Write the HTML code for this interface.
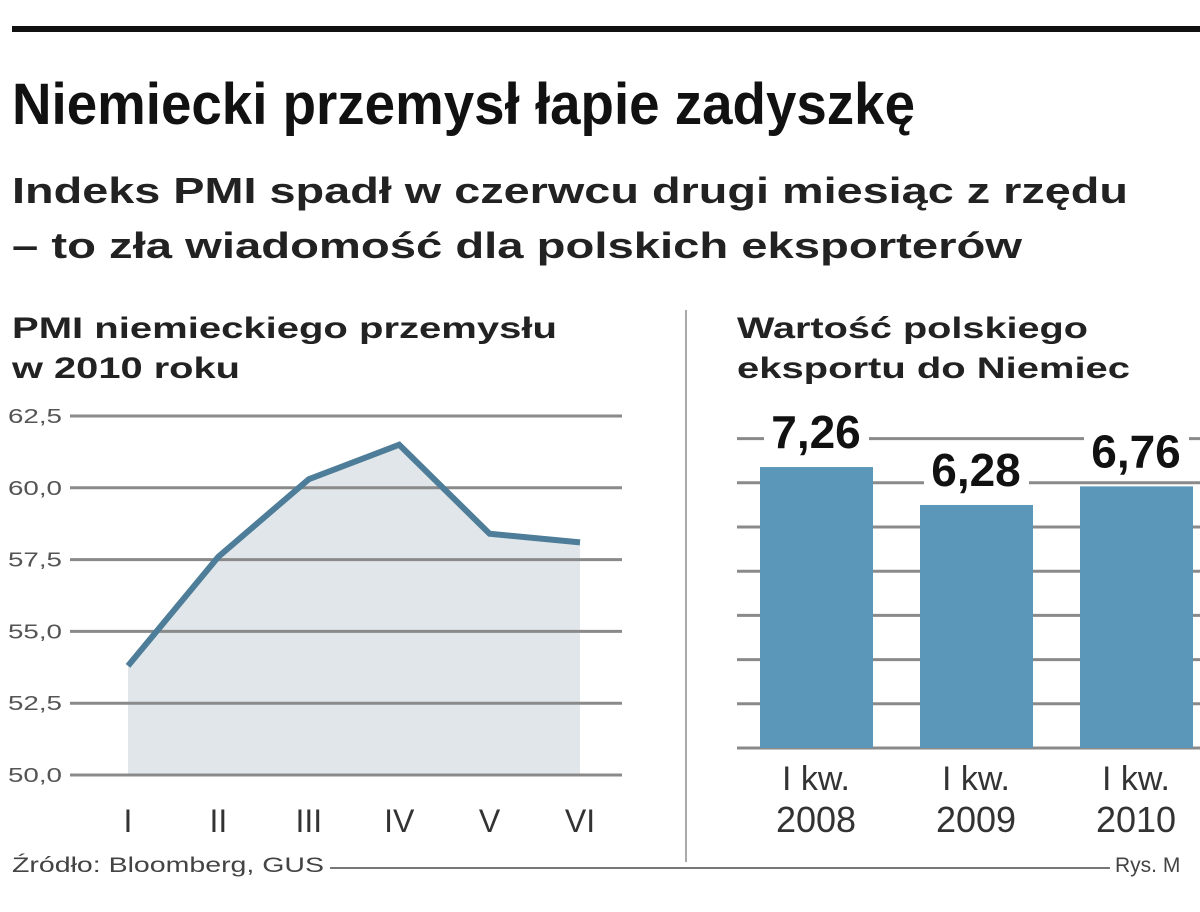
<!DOCTYPE html>
<html><head><meta charset="utf-8"><style>
html,body{margin:0;padding:0;background:#fff;}
svg{display:block;font-family:"Liberation Sans",sans-serif;}
</style></head><body>
<svg id="c" width="1200" height="912" viewBox="0 0 1200 912">
<rect x="12" y="26" width="1188" height="6" fill="#111"/>
<text x="12" y="124" font-size="58" font-weight="bold" fill="#111" textLength="903" lengthAdjust="spacingAndGlyphs">Niemiecki przemysł łapie zadyszkę</text>
<text x="12" y="203" font-size="36" font-weight="bold" fill="#222" textLength="1116" lengthAdjust="spacingAndGlyphs">Indeks PMI spadł w czerwcu drugi miesiąc z rzędu</text>
<text x="12" y="258" font-size="36" font-weight="bold" fill="#222" textLength="1010" lengthAdjust="spacingAndGlyphs">– to zła wiadomość dla polskich eksporterów</text>
<text x="12" y="338" font-size="30" font-weight="bold" fill="#222" textLength="545" lengthAdjust="spacingAndGlyphs">PMI niemieckiego przemysłu</text>
<text x="12" y="378" font-size="30" font-weight="bold" fill="#222" textLength="228" lengthAdjust="spacingAndGlyphs">w 2010 roku</text>
<text x="737" y="338" font-size="30" font-weight="bold" fill="#222" textLength="351" lengthAdjust="spacingAndGlyphs">Wartość polskiego</text>
<text x="737" y="378" font-size="30" font-weight="bold" fill="#222" textLength="393" lengthAdjust="spacingAndGlyphs">eksportu do Niemiec</text>
<line x1="686" y1="310" x2="686" y2="862" stroke="#aaa" stroke-width="2"/>
<line x1="330" y1="868" x2="1110" y2="868" stroke="#777" stroke-width="2"/>
<text x="12" y="872" font-size="21" fill="#444" textLength="312" lengthAdjust="spacingAndGlyphs">Źródło: Bloomberg, GUS</text>
<text x="1115" y="872" font-size="21" fill="#444">Rys. M</text>
<g id="lc"></g>
<g id="bc"></g>
</svg>
<script>
const months = ["I","II","III","IV","V","VI"];
const pmiValues = [53.8, 57.6, 60.3, 61.5, 58.4, 58.1];
const yTicks = [50.0, 52.5, 55.0, 57.5, 60.0, 62.5];
const yTickLabels = ["50,0","52,5","55,0","57,5","60,0","62,5"];
const barCategories = ["2008","2009","2010"];
const exportValues = [7.26, 6.28, 6.76];
const exportLabels = ["7,26","6,28","6,76"];
const barGridValues = [0,1,2,3,4,5,6,7];

const NS="http://www.w3.org/2000/svg";
function mk(tag, attrs, parent, text){const e=document.createElementNS(NS,tag);for(const k in attrs)e.setAttribute(k,attrs[k]);if(text!==undefined)e.textContent=text;parent.appendChild(e);return e;}
const lc=document.getElementById('lc'), bc=document.getElementById('bc');
const yS=v=>775-(v-50)*(359/12.5);
const xS=i=>128+i*90.4;
yTicks.forEach((t,i)=>{
  const l=mk('line',{x1:70,x2:622,y1:yS(t),y2:yS(t),stroke:'#8a8a8a','stroke-width':3},lc);
  
  
  const tx=mk('text',{x:8,y:yS(t)+7,'font-size':20,fill:'#555',textLength:54,lengthAdjust:'spacingAndGlyphs'},lc,yTickLabels[i]);
  
  
});
let pts=pmiValues.map((v,i)=>xS(i)+','+yS(v)).join(' ');
const area=mk('polygon',{points:xS(0)+','+yS(50)+' '+pts+' '+xS(pmiValues.length-1)+','+yS(50),fill:'#dde3e8','fill-opacity':0.9},lc);


lc.insertBefore(area, lc.firstChild);
const pl=mk('polyline',{points:pts,fill:'none',stroke:'#4d7d98','stroke-width':6,'stroke-linejoin':'miter'},lc);


months.forEach((m,i)=>{
  const t=mk('text',{x:xS(i),y:832,'font-size':32,fill:'#333','text-anchor':'middle'},lc,m);
  
  
});
const bBase=748, bK=38.7;
const bY=v=>bBase-v*bK;
const bX=i=>760+i*160;
barGridValues.forEach(v=>{
  const l=mk('line',{x1:737,x2:1200,y1:bBase-v*44.2,y2:bBase-v*44.2,stroke:'#8a8a8a','stroke-width':3},bc);
  
  
});
exportValues.forEach((v,i)=>{
  const r=mk('rect',{x:bX(i),y:bY(v),width:113,height:v*bK,fill:'#5a97b9'},bc);
  
  
  const bg=mk('rect',{x:bX(i)+4,y:bY(v)-52,width:105,height:44,fill:'#fff'},bc);
  
  
  const t=mk('text',{x:bX(i)+56,y:bY(v)-19,'font-size':46,'font-weight':'bold',fill:'#111','text-anchor':'middle'},bc,exportLabels[i]);
  
  
  const c1=mk('text',{x:bX(i)+56,y:790,'font-size':34,fill:'#333','text-anchor':'middle'},bc,'I kw.');
  
  
  const c2=mk('text',{x:bX(i)+56,y:832,'font-size':36,fill:'#333','text-anchor':'middle'},bc,barCategories[i]);
  
  
});
</script>
</body></html>
